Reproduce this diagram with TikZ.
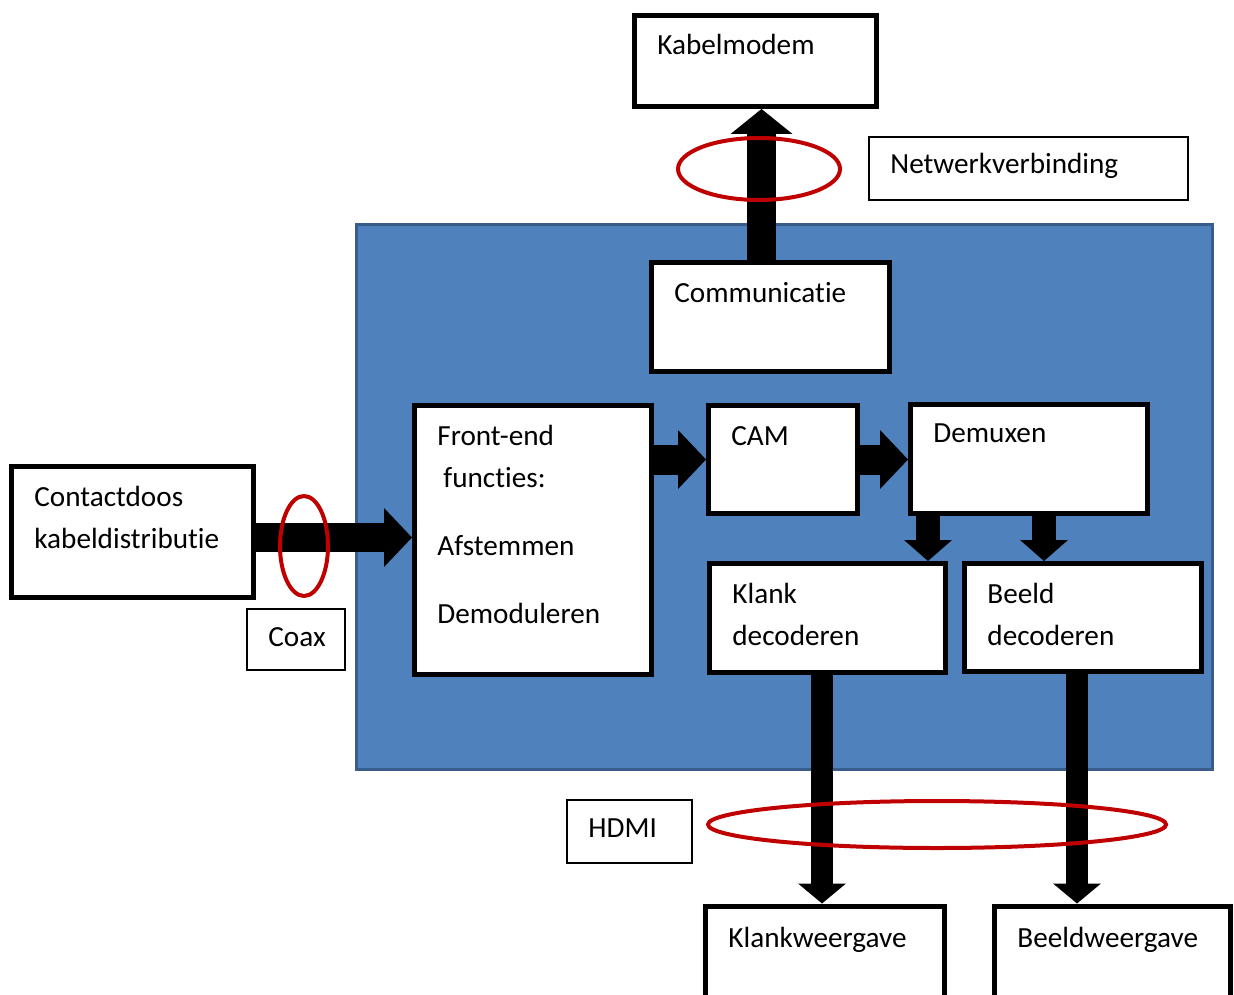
\documentclass[tikz,border=0pt]{standalone}
\usepackage{fontspec}
\setmainfont{Carlito}[Ligatures=NoCommon]
\usetikzlibrary{arrows.meta,shapes.geometric}

\definecolor{kastblauw}{HTML}{4F81BD}
\definecolor{kastrand}{HTML}{385D8A}
\definecolor{ringrood}{HTML}{C00000}

\tikzset{
  blok/.style={draw=black, fill=white, line width=2.5pt, inner sep=0pt},
  dunblok/.style={draw=black, fill=white, line width=1pt, inner sep=0pt},
  tekst/.style={anchor=base west, inner sep=0pt, align=left,
    font=\fontsize{14.6}{21}\selectfont, xshift=12.5pt, yshift=-21pt},
  duntekst/.style={tekst, xshift=-1.5pt, yshift=2pt},
  pijl/.style n args={3}{line width=#1,
    -{Triangle[length=#2 0, width=#3 0, line width=0pt]}},
  ring/.style={draw=ringrood, line width=2pt}
}

\begin{document}
\begin{tikzpicture}[x=0.5pt, y=-0.5pt]
  \useasboundingbox (0,0) rectangle (1234,994);

  % ontvanger
  \draw[kastrand, fill=kastblauw, line width=1.5pt] (356,224.5) rectangle (1212,769);

  % blokken
  \node[blok, minimum width=121pt, minimum height=45.5pt] (kabel) at (755.5,61) {};
  \node[blok, minimum width=119pt, minimum height=54.5pt] (comm) at (770.5,317) {};
  \node[blok, minimum width=118.5pt, minimum height=134.5pt] (front) at (533,540) {};
  \node[blok, minimum width=74.5pt, minimum height=54pt] (cam) at (783,459.5) {};
  \node[blok, minimum width=118.5pt, minimum height=54.5pt] (demux) at (1029,459) {};
  \node[blok, minimum width=118pt, minimum height=54.5pt] (klankdec) at (827.5,618) {};
  \node[blok, minimum width=118.5pt, minimum height=54pt] (beelddec) at (1083,617.5) {};
  \node[blok, minimum width=121pt, minimum height=65.5pt] (contact) at (132.5,532) {};
  \node[blok, minimum width=119.5pt, minimum height=52pt] (klankw) at (825,958) {};
  \node[blok, minimum width=118pt, minimum height=52pt] (beeldw) at (1112.5,958) {};

  \node[dunblok, minimum width=159.5pt, minimum height=31.5pt] (netwerk) at (1028.5,168.5) {};
  \node[dunblok, minimum width=49pt, minimum height=30.5pt] (coax) at (296,639.5) {};
  \node[dunblok, minimum width=62.5pt, minimum height=31.5pt] (hdmi) at (629.5,831.5) {};

  % teksten (base = laatste regel)
  \node[tekst] (kabel-t) at (kabel.north west) {Kabelmodem};
  \node[tekst] (comm-t) at (comm.north west) {Communicatie};
  \node[tekst, yshift=-89pt] (front-t) at (front.north west) {Front-end\\\hspace*{3pt}functies:\\[13pt]Afstemmen\\[13pt]Demoduleren};
  \node[tekst] (cam-t) at (cam.north west) {CAM};
  \node[tekst, yshift=1pt] (demux-t) at (demux.north west) {Demuxen};
  \node[tekst, yshift=-21pt] (klankdec-t) at (klankdec.north west) {Klank\\decoderen};
  \node[tekst, yshift=-21pt] (beelddec-t) at (beelddec.north west) {Beeld\\decoderen};
  \node[tekst, yshift=-21pt] (contact-t) at (contact.north west) {Contactdoos\\kabeldistributie};
  \node[tekst, yshift=-1pt] (klankw-t) at (klankw.north west) {Klankweergave};
  \node[tekst, yshift=-1pt] (beeldw-t) at (beeldw.north west) {Beeldweergave};
  \node[duntekst] (netwerk-t) at (netwerk.north west) {Netwerkverbinding};
  \node[duntekst] (coax-t) at (coax.north west) {Coax};
  \node[duntekst] (hdmi-t) at (hdmi.north west) {HDMI};

  % signaalpijlen
  \coordinate (coaxin) at ([yshift=-2.75pt]contact.east);
  \draw[pijl={14.5pt}{14pt}{29.5pt}] (coaxin) -- (coaxin -| front.west);
  \draw[pijl={15pt}{14pt}{29.5pt}] (cam.west -| front.east) -- (cam.west);
  \draw[pijl={15pt}{14pt}{29.5pt}] (cam.east) -- (cam.east -| demux.west);
  \coordinate (naarklank) at ([xshift=-50.5pt]demux.south);
  \coordinate (naarbeeld) at ([xshift=7.5pt]demux.south);
  \draw[pijl={12pt}{10.5pt}{24pt}] (naarklank) -- (naarklank |- klankdec.north);
  \draw[pijl={12pt}{10.5pt}{24pt}] (naarbeeld) -- (naarbeeld |- beelddec.north);
  \coordinate (naarmodem) at ([xshift=-4.5pt]comm.north);
  \draw[pijl={14.5pt}{12.5pt}{31pt}] (naarmodem) -- (naarmodem |- kabel.south);
  \coordinate (uitklank) at ([xshift=-2.75pt]klankdec.south);
  \coordinate (uitbeeld) at ([xshift=-3pt]beelddec.south);
  \draw[pijl={11pt}{10pt}{24pt}] (uitklank) -- (uitklank |- klankw.north);
  \draw[pijl={11pt}{10pt}{24pt}] (uitbeeld) -- (uitbeeld |- beeldw.north);

  % aansluitingen
  \draw[ring] (304,546) ellipse [x radius=12pt, y radius=25pt];
  \draw[ring] (759,169) ellipse [x radius=40.5pt, y radius=15.5pt];
  \draw[ring] (937,824.5) ellipse [x radius=114.5pt, y radius=11.75pt];
\end{tikzpicture}
\end{document}
